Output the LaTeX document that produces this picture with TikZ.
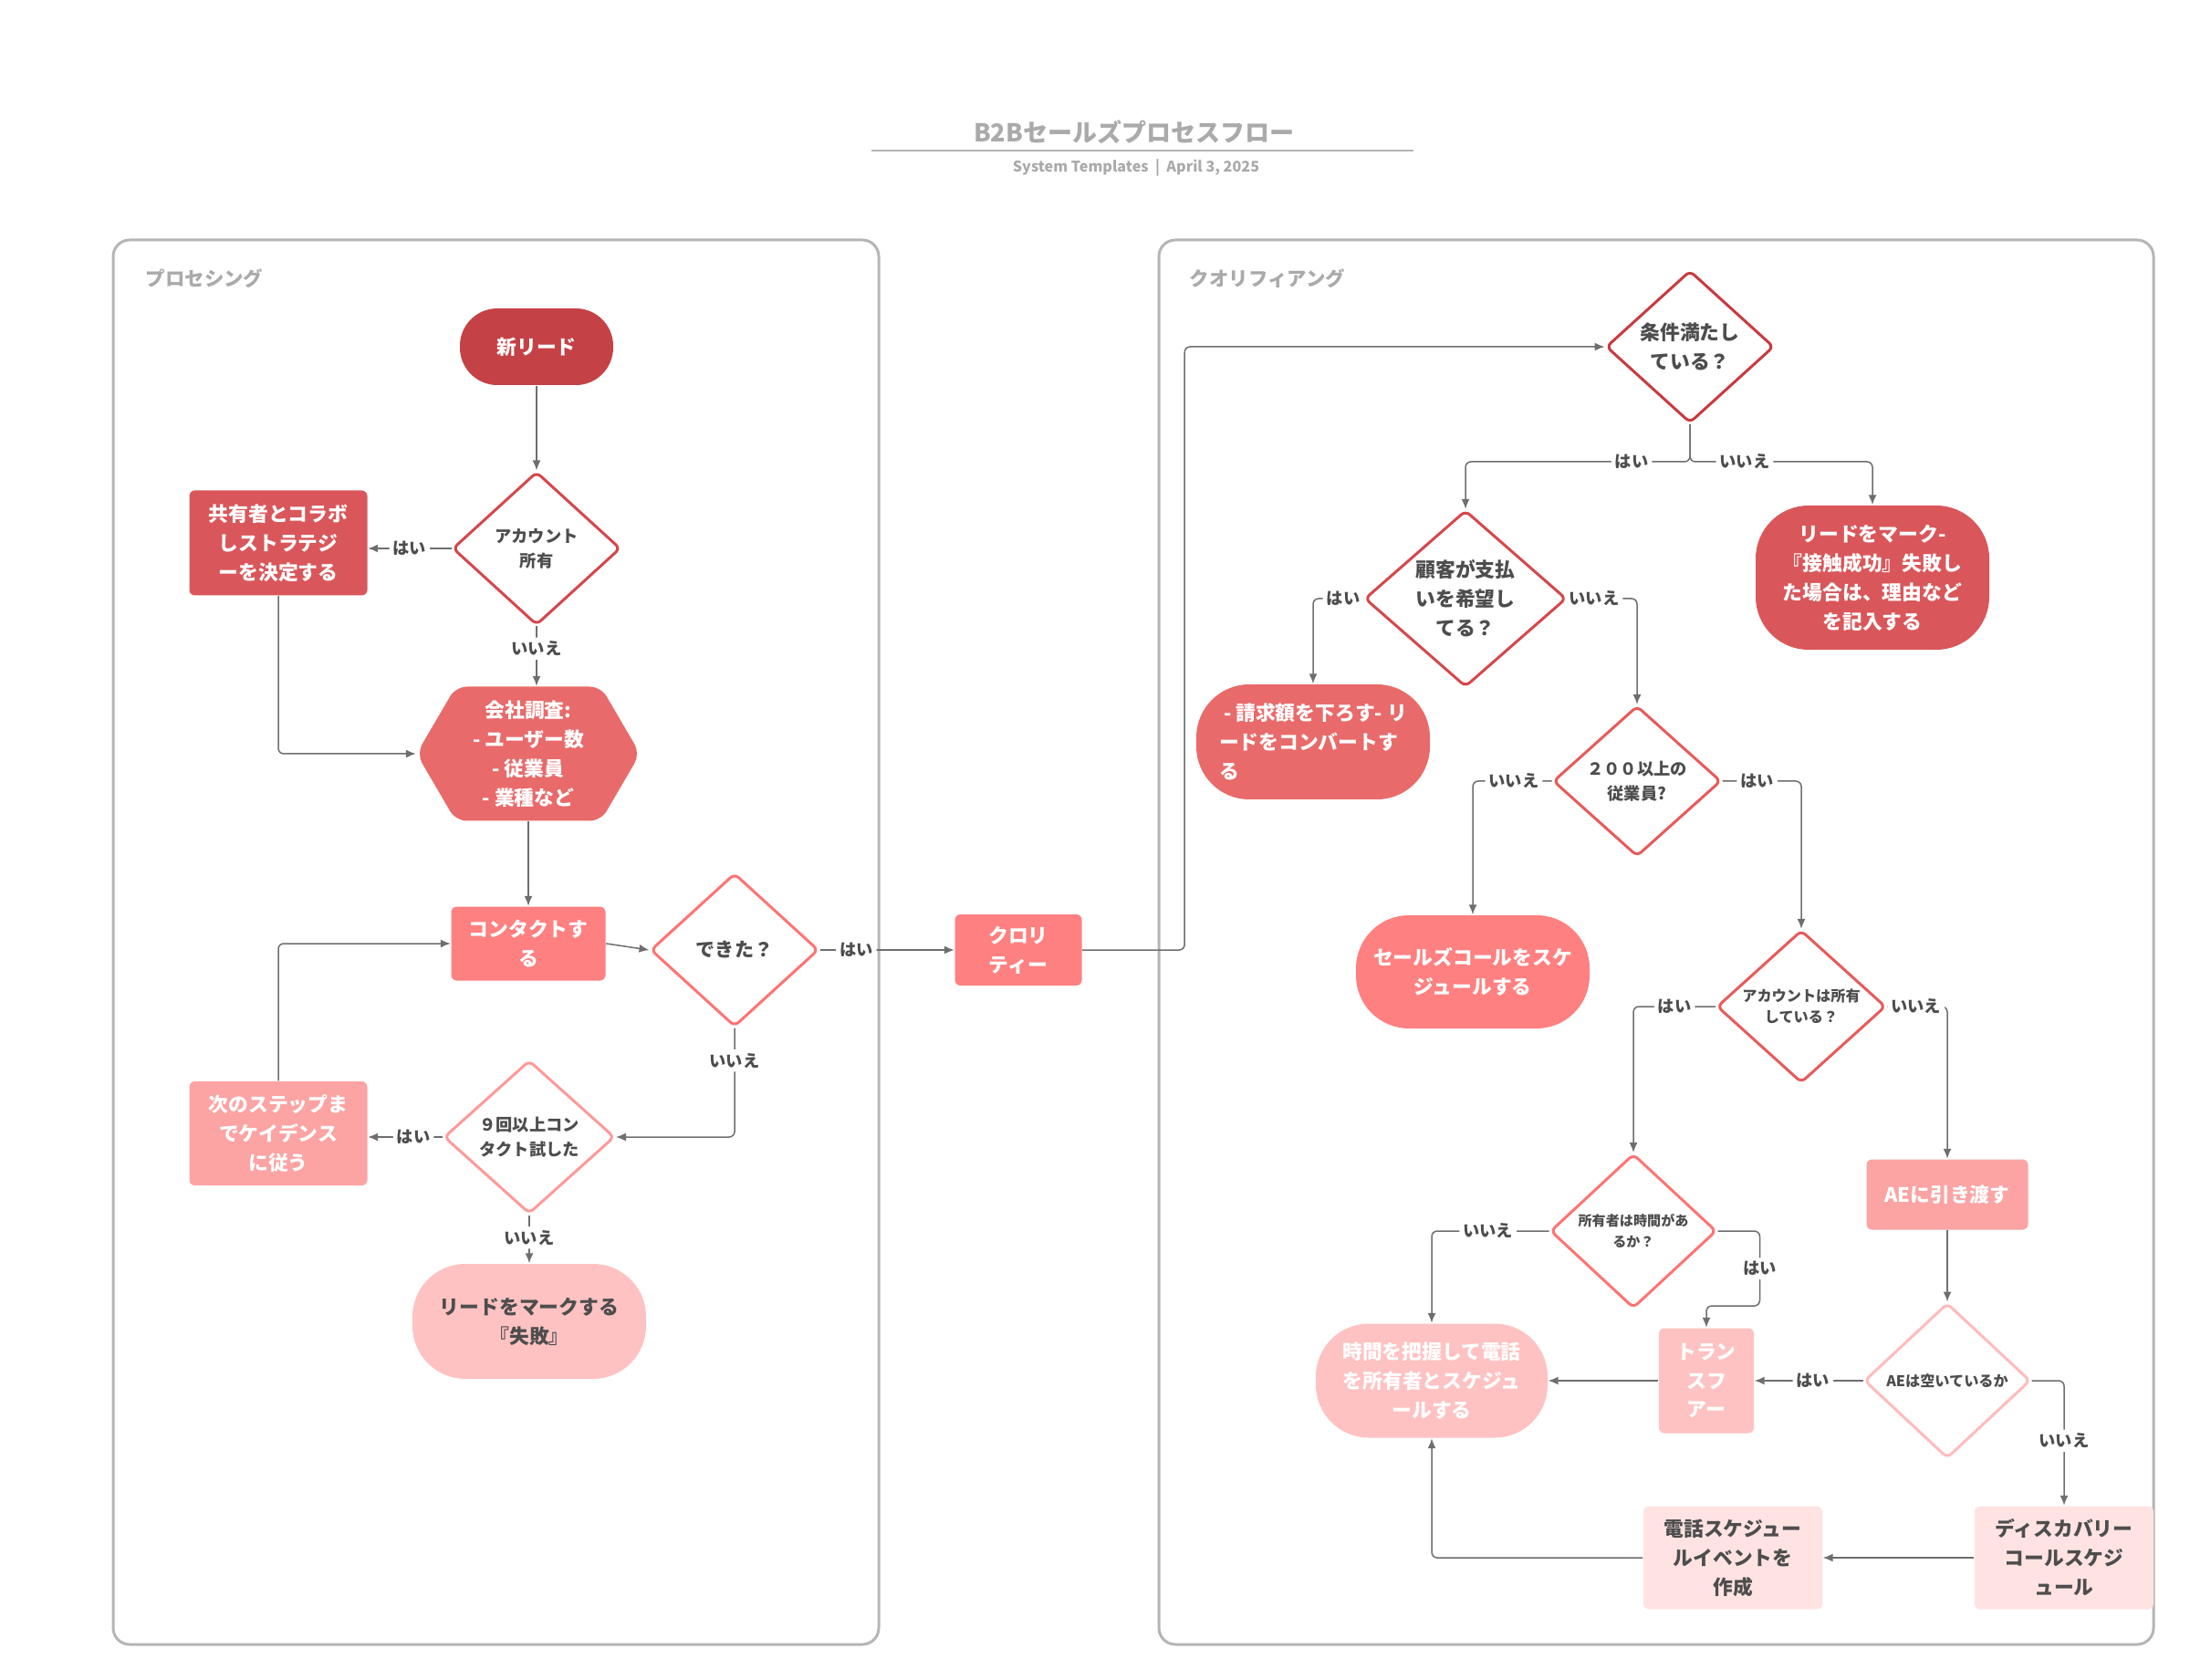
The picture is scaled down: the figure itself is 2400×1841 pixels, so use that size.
\documentclass[tikz,border=0pt]{standalone}
\usepackage{fontspec}
\setmainfont{Noto Sans CJK JP}
\usetikzlibrary{shapes.geometric,arrows.meta}

\definecolor{leadred}{HTML}{C44245}
\definecolor{midred}{HTML}{D9575A}
\definecolor{softred}{HTML}{E96A6A}
\definecolor{salmon}{HTML}{FF8080}
\definecolor{lightsalmon}{HTML}{FCA3A3}
\definecolor{palered}{HTML}{FFC2C2}
\definecolor{blush}{HTML}{FFE3E3}
\definecolor{inkgray}{HTML}{4D4D4D}
\definecolor{headgray}{HTML}{AAAAAA}
\definecolor{framegray}{HTML}{B5B5B5}
\definecolor{linegray}{HTML}{6E6E6E}
\definecolor{rimdark}{HTML}{C83A40}
\definecolor{rimred}{HTML}{D4474C}
\definecolor{rimmid}{HTML}{E85A5A}
\definecolor{rimsoft}{HTML}{FF7373}
\definecolor{rimlight}{HTML}{FF9999}
\definecolor{rimpale}{HTML}{FFBBBB}

\begin{document}
\begin{tikzpicture}
	[
	x = {(0.1mm, 0mm)},
	y = {(0mm, -0.1mm)},
	panel/.style = {draw = framegray, line width = 0.3mm, rounded corners = 1.8mm},
	heading/.style = {anchor = west, inner sep = 0pt, text = headgray, font = \bfseries\fontsize{6.1}{7}\selectfont},
	dims/.style 2 args = {minimum width = #1, minimum height = #2},
	box/.style = {rectangle, rounded corners = 0.6mm, inner sep = 0pt, align = center, text = white, font = \bfseries\fontsize{6.2}{9.1}\selectfont},
	stadium/.style = {box, rounded corners = 5.8mm},
	hexagon/.style = {box, rounded corners = 0mm, fill = white, path picture = {
			\fill[#1, rounded corners = 1.2mm] (path picture bounding box.west) -- ([xshift = 4.3mm]path picture bounding box.north west) -- ([xshift = -4.3mm]path picture bounding box.north east) -- (path picture bounding box.east) -- ([xshift = -4.3mm]path picture bounding box.south east) -- ([xshift = 4.3mm]path picture bounding box.south west) -- cycle;}},
	decision/.style = {diamond, draw = #1, fill = white, line width = 0.3mm, rounded corners = 0.6mm, inner sep = 0pt, align = center, text = inkgray, font = \bfseries\fontsize{6.2}{9.1}\selectfont},
	midtext/.style = {font = \bfseries\fontsize{5.2}{7.6}\selectfont},
	smalltext/.style = {font = \bfseries\fontsize{4.6}{6.5}\selectfont},
	flow/.style = {draw = linegray, line width = 0.15mm, rounded corners = 0.6mm, -{Latex[length = 1.1mm, width = 0.9mm]}},
	answer/.style = {fill = white, inner sep = 0.4mm, text = inkgray, font = \bfseries\fontsize{5.2}{6}\selectfont}]
	
	\useasboundingbox (0,0) rectangle (2400,1841);
	
	%% Title
	\node[text = headgray, font = \bfseries\fontsize{7.7}{9}\selectfont] (title) at (1243,145) {B2Bセールズプロセスフロー};
	\draw[draw = framegray, line width = 0.15mm] (955,165) -- (1549,165);
	\node[text = headgray, font = \bfseries\fontsize{4.6}{6}\selectfont] (subtitle) at (1245,184) {System Templates \ | \ April 3, 2025};
	
	%% Panels
	\draw[panel] (124,263) rectangle (963,1802);
	\draw[panel] (1270,263) rectangle (2360,1802);
	\node[heading] (proc) at (159,305) {プロセシング};
	\node[heading] (qual) at (1303,305) {クオリフィアング};
	
	%% Processing nodes
	\node[stadium, rounded corners = 4.1mm, fill = leadred, dims = {16.8mm}{8.4mm}] (lead) at (588,380) {新リード};
	\node[decision = rimred, midtext, dims = {18.4mm}{16.8mm}] (own) at (588,601) {アカウント\\所有};
	\node[box, fill = midred, dims = {19.5mm}{11.5mm}] (collab) at (305,595) {共有者とコラボ\\しストラテジ\\ーを決定する};
	\node[hexagon = softred, dims = {24.5mm}{14.7mm}] (research) at (579,826) {会社調査:\\- ユーザー数\\- 従業員\\- 業種など};
	\node[box, fill = salmon, dims = {16.9mm}{8.1mm}] (contact) at (579,1034) {コンタクトす\\る};
	\node[decision = rimsoft, font = \bfseries\fontsize{6}{9}\selectfont, dims = {18.4mm}{16.8mm}] (done) at (805,1041) {できた？};
	\node[box, fill = salmon, dims = {13.9mm}{7.8mm}] (quali) at (1116,1041) {クロリ\\ティー};
	\node[decision = rimlight, midtext, dims = {18.7mm}{16.8mm}] (tries) at (580,1246) {９回以上コン\\タクト試した};
	\node[box, fill = lightsalmon, dims = {19.5mm}{11.4mm}] (next) at (305,1242) {次のステップま\\でケイデンス\\に従う};
	\node[stadium, fill = palered, text = inkgray, dims = {25.6mm}{12.6mm}] (fail) at (580,1448) {リードをマークする\\『失敗』};
	
	%% Qualifying nodes
	\node[decision = rimdark, dims = {18.4mm}{16.7mm}] (cond) at (1852,380) {条件満たし\\ている？};
	\node[decision = rimred, dims = {22.1mm}{17.9mm}] (pay) at (1606,656) {顧客が支払\\いを希望し\\てる？};
	\node[stadium, fill = midred, dims = {25.6mm}{15.8mm}] (markq) at (2052,633) {リードをマーク-\\『接触成功』失敗し\\た場合は、理由など\\を記入する};
	\node[stadium, fill = softred, align = left, dims = {25.6mm}{12.6mm}] (convert) at (1439,813) {\ - 請求額を下ろす- リ\\ードをコンバートす\\る};
	\node[decision = rimmid, midtext, dims = {18.4mm}{16.5mm}] (emp) at (1794,856) {２００以上の\\従業員?};
	\node[stadium, fill = salmon, dims = {25.6mm}{12.4mm}] (sales) at (1614,1065) {セールズコールをスケ\\ジュールする};
	\node[decision = rimmid, smalltext, dims = {18.5mm}{16.7mm}] (acct) at (1974,1103) {アカウントは所有\\している？};
	\node[decision = rimsoft, font = \bfseries\fontsize{4.3}{6.5}\selectfont, dims = {18.2mm}{16.9mm}] (owner) at (1790,1349) {所有者は時間があ\\るか？};
	\node[box, fill = lightsalmon, dims = {17.7mm}{7.7mm}] (handae) at (2134,1309) {AEに引き渡す};
	\node[decision = rimpale, smalltext, dims = {18.2mm}{17mm}] (aefree) at (2134,1513) {AEは空いているか};
	\node[box, fill = palered, dims = {10.4mm}{11.5mm}] (transfer) at (1870,1513) {トラン\\スフ\\アー};
	\node[stadium, fill = palered, dims = {25.4mm}{12.5mm}] (sched) at (1569,1513) {時間を把握して電話\\を所有者とスケジュ\\ールする};
	\node[box, fill = blush, text = inkgray, dims = {19.6mm}{11.3mm}] (disc) at (2262,1707) {ディスカバリー\\コールスケジ\\ュール};
	\node[box, fill = blush, text = inkgray, dims = {19.6mm}{11.3mm}] (call) at (1899,1707) {電話スケジュー\\ルイベントを\\作成};
	
	%% Connectors, processing
	\draw[flow] (lead.south) -- (own.north);
	\draw[flow] (own.west) -- node[answer]{はい} (own.west -| collab.east);
	\draw[flow] (own.south) -- node[answer, pos = 0.37]{いいえ} (own.south |- research.north);
	\draw[flow] (collab.south) |- (research.west);
	\draw[flow] (research.south) -- (contact.north);
	\draw[flow] (contact.east) -- (done.west);
	\draw[flow] (done.east) -- node[answer, pos = 0.27]{はい} (quali.west);
	\draw[flow] (done.south) |- node[answer, pos = 0.15]{いいえ} (tries.east);
	\draw[flow] (tries.west) -- node[answer, pos = 0.39]{はい} (tries.west -| next.east);
	\draw[flow] (next.north) |- (contact.west);
	\draw[flow] (tries.south) -- node[answer, pos = 0.47]{いいえ} (fail.north);
	
	%% Connectors, qualifying
	\draw[flow] (quali.east) -- ++(112,0) |- (cond.west);
	\draw[flow] (cond.south) -- ++(0,41) -| node[answer, pos = 0.13]{はい} (pay.north);
	\draw[flow] (cond.south) -- ++(0,41) -| node[answer, pos = 0.15]{いいえ} (markq.north);
	\draw[flow] (pay.west) -| node[answer, pos = 0.2]{はい} (convert.north);
	\draw[flow] (pay.east) -| node[answer, pos = 0.19]{いいえ} (emp.north);
	\draw[flow] (emp.west) -| node[answer, pos = 0.24]{いいえ} (sales.north);
	\draw[flow] (emp.east) -| node[answer, pos = 0.22]{はい} (acct.north);
	\draw[flow] (acct.west) -| node[answer, pos = 0.25]{はい} (owner.north);
	\draw[flow] (acct.east) -| node[answer, pos = 0.24]{いいえ} (handae.north);
	\draw[flow] (handae.south) -- (aefree.north);
	\draw[flow] (owner.west) -| node[answer, pos = 0.26]{いいえ} (sched.north);
	\draw[flow] (owner.east) -- ++(46,0) -- node[answer]{はい} ++(0,82) -| (transfer.north);
	\draw[flow] (transfer.west) -- (sched.east);
	\draw[flow] (aefree.west) -- node[answer, pos = 0.46]{はい} (transfer.east);
	\draw[flow] (aefree.east) -| node[answer, pos = 0.74]{いいえ} (disc.north);
	\draw[flow] (disc.west) -- (call.east);
	\draw[flow] (call.west) -| (sched.south);
\end{tikzpicture}
\end{document}
